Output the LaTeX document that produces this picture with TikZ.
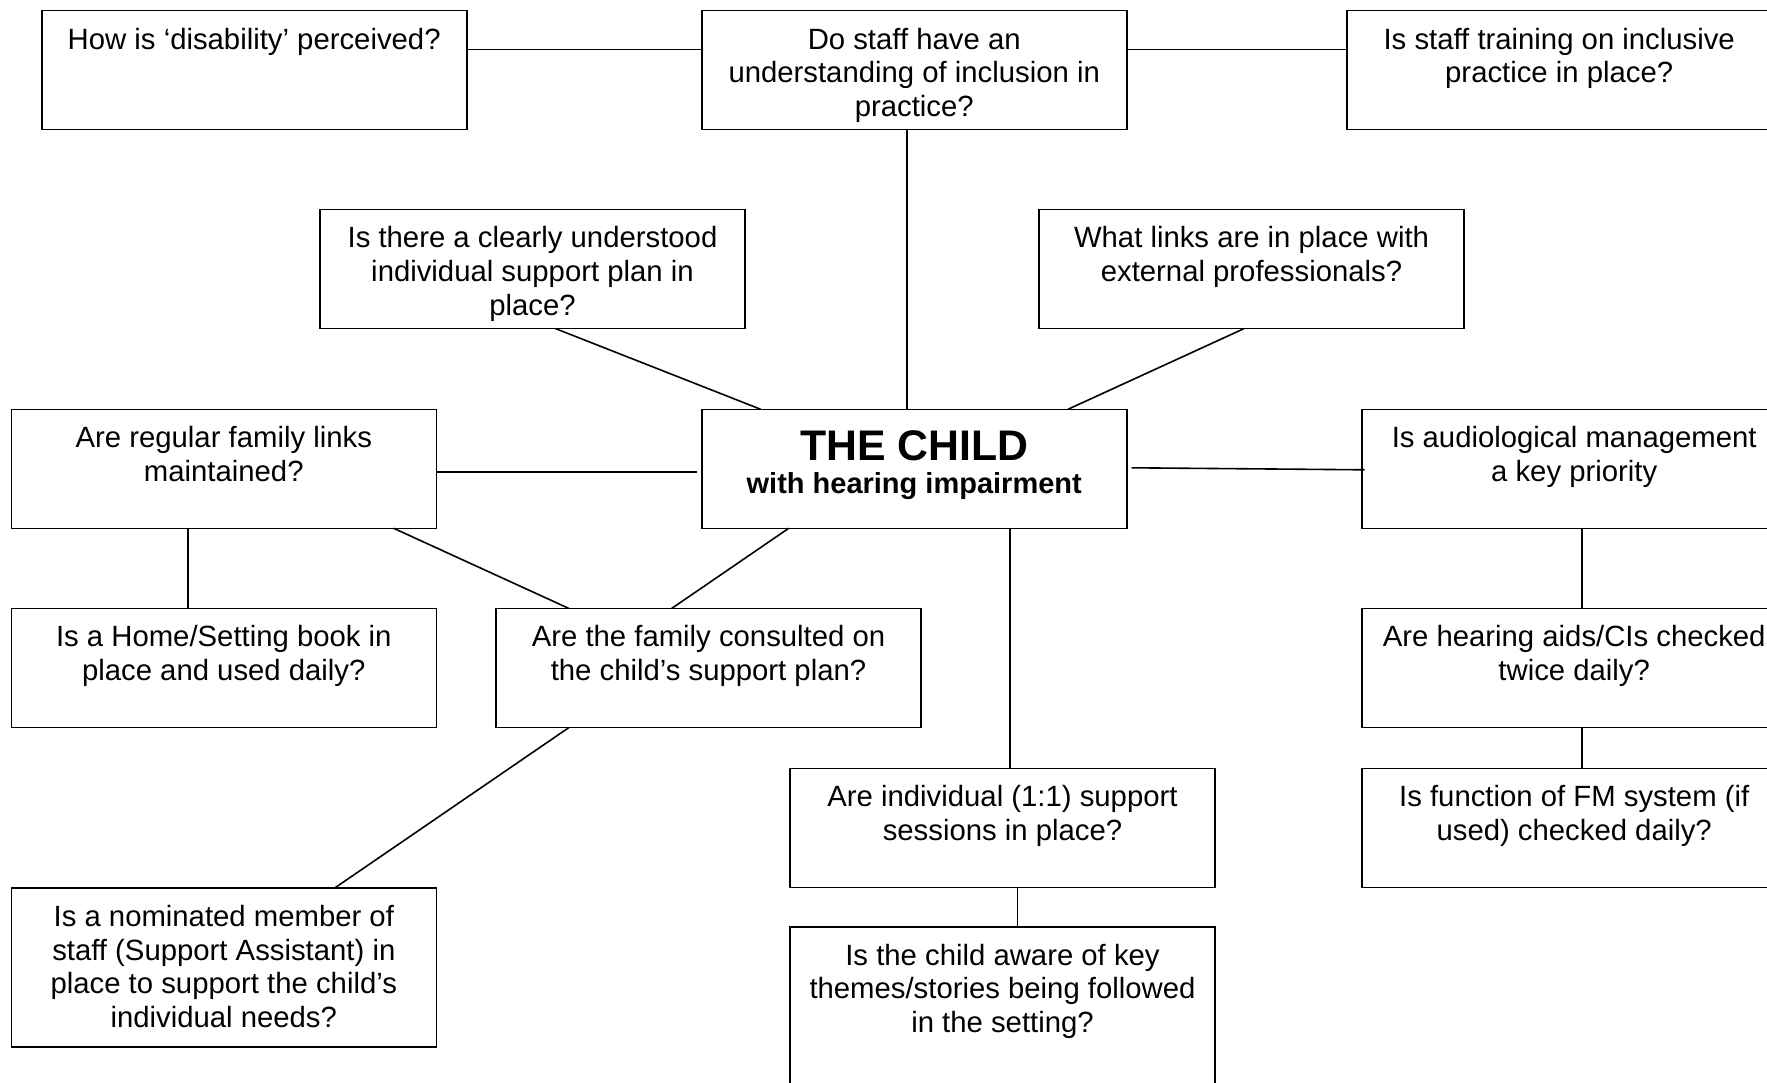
\documentclass[tikz,border=0pt]{standalone}
\usepackage{fontspec}
\setmainfont{Liberation Sans}
\newcommand\qtext[2][119pt]{\parbox[c][#1][t]{425pt}{\centering\fontsize{29.3pt}{33.7pt}\selectfont\rule{0pt}{38.4pt}#2\par}}
\tikzset{
  qbox/.style={draw=black, line width=1.6pt, inner sep=0pt, outer sep=0pt, anchor=north west},
  link/.style={draw=black, line width=1.6pt}
}
\begin{document}
\begin{tikzpicture}[x=1pt, y=-1pt]
\useasboundingbox (0,0) rectangle (1767,1083);
\fill[white] (0,0) rectangle (1767,1083);
% boxes
\node[qbox] (A) at (41.7,10.7) {\qtext{How is ‘disability’ perceived?}};
\node[qbox] (B) at (701.7,10.7) {\qtext{Do staff have an\\ understanding of inclusion in\\ practice?}};
\node[qbox] (C) at (1346.7,10.7) {\qtext{Is staff training on inclusive\\ practice in place?}};
\node[qbox] (D) at (320,209.6) {\qtext{Is there a clearly understood\\ individual support plan in\\ place?}};
\node[qbox] (E) at (1039,209.6) {\qtext{What links are in place with\\ external professionals?}};
\node[qbox] (Ctr) at (701.7,409.3) {\parbox[c][119pt][t]{425pt}{\centering\fontsize{29pt}{33.3pt}\selectfont\bfseries\rule{0pt}{51pt}{\fontsize{42.8pt}{48pt}\selectfont THE CHILD}\\ with hearing impairment\par}};
\node[qbox] (F) at (11.3,409.3) {\qtext{Are regular family links\\ maintained?}};
\node[qbox] (G) at (1361.7,409.3) {\qtext{Is audiological management\\ a key priority}};
\node[qbox] (H) at (11.3,608.5) {\qtext{Is a Home/Setting book in\\ place and used daily?}};
\node[qbox] (I) at (496,608.5) {\qtext{Are the family consulted on\\ the child’s support plan?}};
\node[qbox] (J) at (1361.7,608.5) {\qtext{Are hearing aids/CIs checked\\ twice daily?}};
\node[qbox] (K) at (790,768.5) {\qtext{Are individual (1:1) support\\ sessions in place?}};
\node[qbox] (L) at (1361.7,768.5) {\qtext{Is function of FM system (if\\ used) checked daily?}};
\node[qbox] (M) at (11.3,888) {\qtext[159pt]{Is a nominated member of\\ staff (Support Assistant) in\\ place to support the child’s\\ individual needs?}};
\node[qbox] (N) at (790,926.7) {\qtext[159pt]{Is the child aware of key\\ themes/stories being followed\\ in the setting?}};
% connectors
\draw[link] ([yshift=-39pt]A.north east) -- ([yshift=-39pt]B.north west);
\draw[link] ([yshift=-39pt]B.north east) -- ([yshift=-39pt]C.north west);
\draw[link] ([xshift=-7pt]B.south) -- ([xshift=-7pt]Ctr.north);
\draw[link] ([xshift=23pt]D.south) -- ([xshift=59pt]Ctr.north west);
\draw[link] ([xshift=-7.5pt]E.south) -- ([xshift=-58.7pt]Ctr.north east);
\draw[link] ([yshift=-3pt]F.east) -- ([yshift=-3pt,xshift=-5pt]Ctr.west);
\draw[link] ([xshift=5pt,yshift=1pt]Ctr.east) -- ([xshift=3pt,yshift=-1pt]G.west);
\draw[link] ([xshift=-36pt]F.south) -- ([xshift=-36pt]H.north);
\draw[link] ([xshift=-42.6pt]F.south east) -- ([xshift=73pt]I.north west);
\draw[link] ([xshift=87pt]Ctr.south west) -- ([xshift=175.6pt]I.north west);
\draw[link] ([xshift=308.3pt]Ctr.south west) -- ([xshift=220pt]K.north west);
\draw[link] ([xshift=220pt]G.south west) -- ([xshift=220pt]J.north west);
\draw[link] ([xshift=220pt]J.south west) -- ([xshift=220pt]L.north west);
\draw[link] ([xshift=73pt]I.south west) -- ([xshift=323.4pt]M.north west);
\draw[link] ([xshift=227.6pt]K.south west) -- ([xshift=227.6pt]N.north west);
\end{tikzpicture}
\end{document}
